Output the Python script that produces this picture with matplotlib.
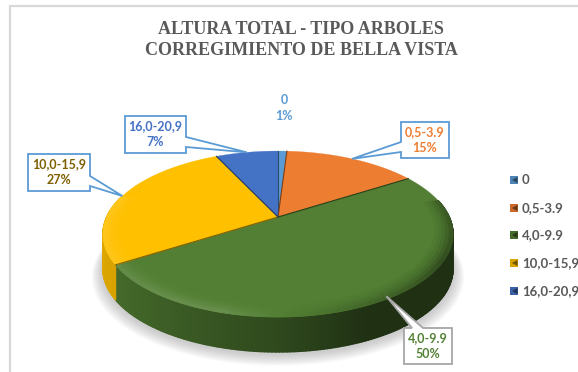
import numpy as np
import matplotlib
matplotlib.use('Agg')
import matplotlib.pyplot as plt
from matplotlib.collections import PolyCollection
from matplotlib.colors import to_rgb

categories = ['0', '0,5-3.9', '4,0-9.9', '10,0-15,9', '16,0-20,9']
percent = [1, 15, 50, 27, 7]
title_lines = ['ALTURA TOTAL - TIPO ARBOLES', 'CORREGIMIENTO DE BELLA VISTA']

colors = ['#5b9bd5', '#ed7d31', '#527f33', '#ffc000', '#4472c4']
label_colors = ['#5b9bd5', '#ed7d31', '#548235', '#7f6000', '#4472c4']

# pie geometry in pixels, perspective squeezes the far half
CX, CY = 278.0, 217.0
K = -0.205
AY = 79.5
BX = 175.0 * np.sqrt(1 - K ** 2)
DEPTH = 35.0


def project(theta, r=1.0):
    # theta in degrees, clockwise from the top of the pie
    t = np.radians(theta)
    u = r * np.sin(t)
    v = -r * np.cos(t)
    den = 1 + K * v
    return CX + BX * u / den, CY + AY * v / den


def shade(col, f):
    rgb = np.array(to_rgb(col))
    if f <= 1:
        return tuple(rgb * f)
    return tuple(rgb + (1 - rgb) * (f - 1))


fig = plt.figure(figsize=(5.78, 3.72), dpi=100)
ax = fig.add_axes([0, 0, 1, 1])
ax.set_xlim(0, 578)
ax.set_ylim(372, 0)
ax.axis('off')

# chart frame, only top and left show in the crop
ax.plot([9.5, 9.5, 578], [372, 5.5, 5.5], color='#d9d9d9', lw=1.6, solid_joinstyle='miter')

# soft shadow under the pie
ring = np.linspace(0, 360, 200)
for grow in np.arange(10, 0, -1):
    sx, sy = project(ring, 1 + grow * 0.006)
    ax.fill(sx, sy + DEPTH + 2 + grow * 0.4, color='#7f7f7f', alpha=0.045, lw=0)

edges = np.cumsum([0] + percent) * 3.6
starts = edges[:-1]
ends = edges[1:]

side_a = [85, 110, 155, 180, 215, 240, 275]
side_f = [0.42, 0.38, 0.38, 0.58, 0.75, 0.85, 0.88]
# rim bands from inner to outer, how strongly each takes the rim shade
bands = [(0.90, 0.92, 0.12), (0.92, 0.94, 0.25), (0.94, 0.96, 0.45), (0.96, 0.98, 0.7), (0.98, 1.0, 1.0)]

# side wall, one thin quad per step
side_polys, side_cols = [], []
rim_polys, rim_cols = [], []
for i in range(len(percent)):
    a0, a1 = starts[i], ends[i]
    steps = np.arange(a0, a1, 1.0)
    for a in steps:
        b = min(a + 1.0, a1)
        if b < 78 or a > 285:
            continue
        x0, y0 = project(a)
        x1, y1 = project(b)
        side_polys.append([(x0, y0), (x1, y1), (x1, y1 + DEPTH), (x0, y0 + DEPTH)])
        f = np.interp(a, side_a, side_f)
        side_cols.append(shade(colors[i], f))
        # rim bevel, bright on the lower left and dark on the right
        glow = np.interp(a, [78, 120, 160, 195, 240, 285], [0.75, 0.62, 0.85, 1.13, 1.10, 1.10])
        for r0, r1, w in bands:
            xa, ya = project(a, r0)
            xb, yb = project(b, r0)
            xc, yc = project(b, r1)
            xd, yd = project(a, r1)
            rim_polys.append([(xa, ya), (xb, yb), (xc, yc), (xd, yd)])
            rim_cols.append(shade(colors[i], 1 + (glow - 1) * w))

ax.add_collection(PolyCollection(side_polys, facecolors=side_cols, edgecolors=side_cols, linewidths=1.0, zorder=2))

# top face
for i in range(len(percent)):
    a = np.linspace(starts[i], ends[i], 120)
    x, y = project(a)
    ax.fill(np.r_[CX, x], np.r_[CY, y], color=colors[i], lw=0.2, zorder=3)

ax.add_collection(PolyCollection(rim_polys, facecolors=rim_cols, edgecolors=rim_cols, linewidths=0.6, zorder=4))

# dark seams between slices
for i in range(len(percent)):
    x, y = project(starts[i])
    ax.plot([CX, x], [CY, y], color=shade(colors[i], 0.5), lw=0.8, zorder=5)

# title
ax.text(301, 29, title_lines[0], ha='center', va='center', family='Liberation Serif',
        fontweight='bold', fontsize=13, color='#595959')
ax.text(301, 50.5, title_lines[1], ha='center', va='center', family='Liberation Serif',
        fontweight='bold', fontsize=13, color='#595959')

# callouts: box l, t, r, b and the two pointer base points
boxes = {
    1: (401, 122, 449, 158, (401, 142), (401, 152), '#5b9bd5'),
    2: (404, 328, 452, 364, (423, 328), (412, 328), '#a6a6a6'),
    3: (28, 154, 90, 191, (90, 176), (90, 186), '#5b9bd5'),
    4: (125, 116, 186, 153, (186, 137), (186, 147), '#5b9bd5'),
}
tip_r = {1: 1.0, 2: 0.98, 3: 1.0, 4: 1.0}

for i, (l, t, r, b, p0, p1, ec) in boxes.items():
    tx, ty = project((starts[i] + ends[i]) / 2, tip_r[i])
    if p0[0] == l:
        pts = [(l, t), (r, t), (r, b), (l, b), p1, (tx, ty), p0]
    elif p0[0] == r:
        pts = [(l, t), (r, t), p0, (tx, ty), p1, (r, b), (l, b)]
    else:
        pts = [(l, t), p1, (tx, ty), p0, (r, t), (r, b), (l, b)]
    ax.fill(*zip(*pts), facecolor='white', edgecolor=ec, lw=1.3, zorder=6, joinstyle='miter')
    ax.text((l + r) / 2, (t + b) / 2, '%s\n%d%%' % (categories[i], percent[i]), ha='center', va='center',
            family='Lato', fontweight='bold', fontsize=9, color=label_colors[i], linespacing=1.4, zorder=7)

ax.text(284, 108, '%s\n%d%%' % (categories[0], percent[0]), ha='center', va='center',
        family='Lato', fontweight='bold', fontsize=9, color=label_colors[0], linespacing=1.4, zorder=7)

# legend
leg_y = [180, 208, 235, 263, 291]
for i, name in enumerate(categories):
    y = leg_y[i]
    ax.fill([510, 517.5, 517.5, 510], [y - 3.7, y - 3.7, y + 3.7, y + 3.7], color=shade(colors[i], 0.85), lw=0)
    ax.fill([512, 517.5, 517.5], [y, y - 3, y + 3], color=shade(colors[i], 0.45), lw=0)
    ax.text(522, y, name, ha='left', va='center', family='Lato', fontweight='bold', fontsize=9.5, color='#595959')

fig.savefig('out.png', dpi=100)
